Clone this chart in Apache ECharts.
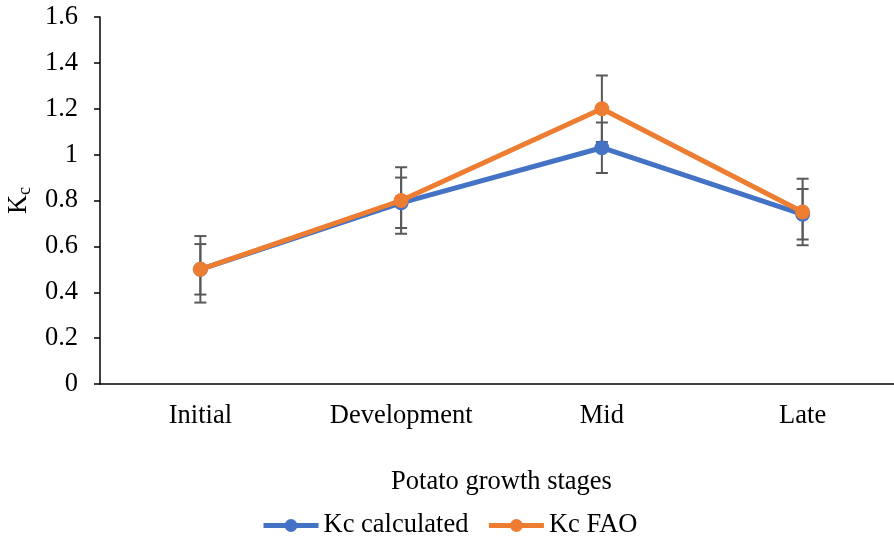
<!DOCTYPE html>
<html>
<head>
<meta charset="utf-8">
<script src="https://cdn.jsdelivr.net/npm/echarts@6/dist/echarts.min.js"></script>
<style>
html,body{margin:0;padding:0;background:#fff;overflow:hidden;width:894px;height:540px;}
#chart{width:912px;height:540px;}
</style>
</head>
<body>
<div id="chart"></div>
<script>
const categories = ['Initial', 'Development', 'Mid', 'Late'];
const kcCalculated = [0.50, 0.79, 1.03, 0.74];
const kcFAO = [0.50, 0.80, 1.20, 0.75];
const errCalculated = [0.11, 0.11, 0.11, 0.11];
const errFAO = [0.145, 0.145, 0.145, 0.145];
const yTicks = { min: 0, max: 1.6, interval: 0.2 };

const FONT = '"Liberation Serif", "Times New Roman", serif';
const FS = 26.5;
const BLUE = '#4472C4';
const ORANGE = '#ED7D31';
const ERR = '#595959';

function errData(vals, errs) {
  return vals.map((v, i) => [i, v - errs[i], v + errs[i]]);
}
function renderErr(params, api) {
  const x = api.value(0);
  const lo = api.coord([x, api.value(1)]);
  const hi = api.coord([x, api.value(2)]);
  const w = 6;
  const style = { stroke: ERR, lineWidth: 2 };
  return {
    type: 'group',
    children: [
      { type: 'line', shape: { x1: lo[0], y1: lo[1], x2: hi[0], y2: hi[1] }, style },
      { type: 'line', shape: { x1: lo[0] - w, y1: lo[1], x2: lo[0] + w, y2: lo[1] }, style },
      { type: 'line', shape: { x1: hi[0] - w, y1: hi[1], x2: hi[0] + w, y2: hi[1] }, style }
    ]
  };
}

const chart = echarts.init(document.getElementById('chart'), null, { renderer: 'canvas' });
chart.setOption({
  animation: false,
  backgroundColor: '#fff',
  textStyle: { fontFamily: FONT },
  grid: { left: 100, width: 803, top: 17, height: 367, containLabel: false, outerBoundsMode: 'none' },
  legend: {
    top: 512,
    left: 261,
    padding: 0,
    itemWidth: 55,
    itemHeight: 16,
    itemGap: 18,
    itemTextGap: 3,
    lineStyle: { width: 5 },
    textStyle: { fontFamily: FONT, fontSize: FS, color: '#000' },
    data: ['Kc calculated', 'Kc FAO']
  },
  xAxis: {
    type: 'category',
    data: categories,
    name: 'Potato growth stages',
    nameLocation: 'middle',
    nameGap: 85,
    nameTextStyle: { fontFamily: FONT, fontSize: FS, color: '#000' },
    axisLine: { lineStyle: { color: '#000', width: 1.5 } },
    axisTick: { show: false },
    axisLabel: { fontFamily: FONT, fontSize: FS, color: '#000', margin: 19 }
  },
  yAxis: {
    type: 'value',
    min: yTicks.min,
    max: yTicks.max,
    interval: yTicks.interval,
    name: '{k|K}{c|c}',
    nameLocation: 'middle',
    nameGap: 63,
    nameRotate: 90,
    nameTextStyle: {
      color: '#000',
      rich: {
        k: { fontFamily: FONT, fontSize: FS, color: '#000' },
        c: { fontFamily: FONT, fontSize: 18, color: '#000', verticalAlign: 'bottom', padding: [11, 0, 0, 0] }
      }
    },
    axisLine: { show: true, lineStyle: { color: '#000', width: 1.5 } },
    axisTick: { show: true, length: 6, lineStyle: { color: '#000', width: 1.5 } },
    splitLine: { show: false },
    axisLabel: { fontFamily: FONT, fontSize: FS, color: '#000', margin: 22 }
  },
  series: [
    {
      type: 'custom',
      name: 'errCalc',
      renderItem: renderErr,
      data: errData(kcCalculated, errCalculated),
      z: 1,
      silent: true
    },
    {
      type: 'custom',
      name: 'errFAO',
      renderItem: renderErr,
      data: errData(kcFAO, errFAO),
      z: 1,
      silent: true
    },
    {
      type: 'line',
      name: 'Kc calculated',
      data: kcCalculated,
      symbol: 'circle',
      symbolSize: 15,
      itemStyle: { color: BLUE },
      lineStyle: { color: BLUE, width: 5 },
      z: 3
    },
    {
      type: 'line',
      name: 'Kc FAO',
      data: kcFAO,
      symbol: 'circle',
      symbolSize: 15,
      itemStyle: { color: ORANGE },
      lineStyle: { color: ORANGE, width: 5 },
      z: 4
    }
  ]
});
</script>
</body>
</html>
